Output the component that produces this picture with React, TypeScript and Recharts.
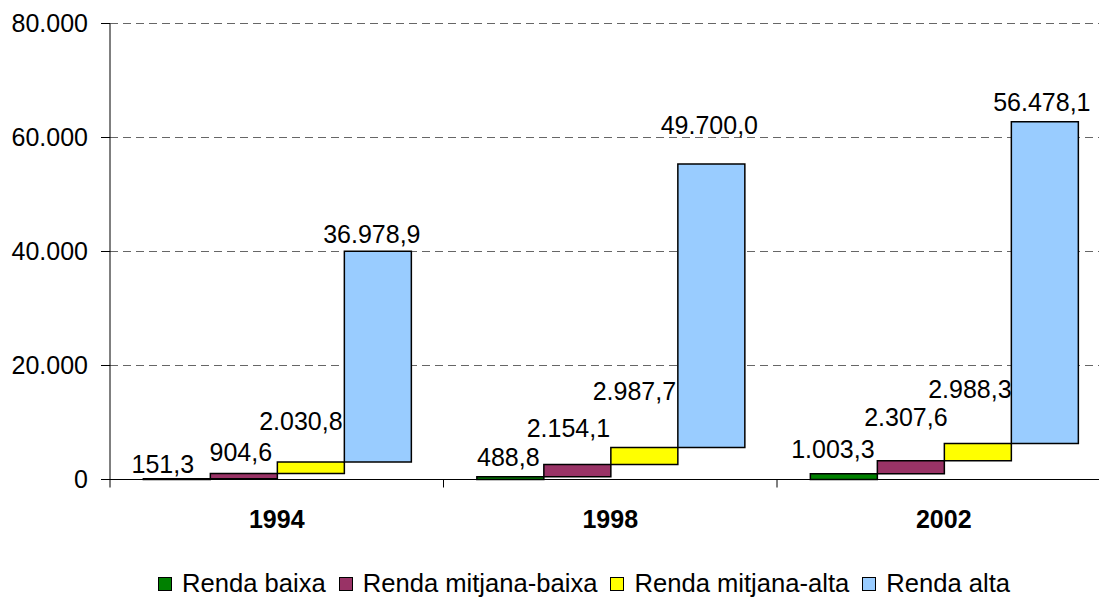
import React from 'react';
import { BarChart, Bar, XAxis, YAxis, CartesianGrid, LabelList } from 'recharts';

const years = ['1994', '1998', '2002'];
const rendaBaixa = [151.3, 488.8, 1003.3];
const rendaMitjanaBaixa = [904.6, 2154.1, 2307.6];
const rendaMitjanaAlta = [2030.8, 2987.7, 2988.3];
const rendaAlta = [36978.9, 49700.0, 56478.1];
const yTicks = [0, 20000, 40000, 60000, 80000];

const series = [
  { key: 'baixa', name: 'Renda baixa', values: rendaBaixa, color: '#008000' },
  { key: 'mitjanaBaixa', name: 'Renda mitjana-baixa', values: rendaMitjanaBaixa, color: '#993366' },
  { key: 'mitjanaAlta', name: 'Renda mitjana-alta', values: rendaMitjanaAlta, color: '#FFFF00' },
  { key: 'alta', name: 'Renda alta', values: rendaAlta, color: '#99CCFF' },
];

// label nudges (dx, dy from bar top) per series, per year - the original has hand-placed labels
const labelNudge: Record<string, [number, number][]> = {
  baixa: [[-14, -6], [-2, -11], [-11, -16]],
  mitjanaBaixa: [[-3, -12], [-9, -27], [-5, -35]],
  mitjanaAlta: [[-10, -32], [-10, -47], [-8, -46]],
  alta: [[-6, -8], [-2, -30], [-3, -11]],
};

// floating steps: every series starts where the previous one ended
const data = years.map((year, i) => {
  const row: Record<string, any> = { year };
  let cum = 0;
  series.forEach((s) => {
    const v = s.values[i];
    row[s.key] = [cum, cum + v];
    row[s.key + 'Val'] = v;
    cum += v;
  });
  return row;
});

const FONT = '"Liberation Sans", Arial, sans-serif';
const CHART_W = 1130;
const CHART_H = 598;
const Y_AXIS_W = 110;
const MARGIN = { top: 23.5, right: 19.5, bottom: 58.5, left: 0 };
const PLOT_W = CHART_W - MARGIN.left - MARGIN.right - Y_AXIS_W;
const HALF_BAND = PLOT_W / years.length / 2;

function fmtThousands(n: number) {
  return String(Math.round(n)).replace(/\B(?=(\d{3})+(?!\d))/g, '.');
}

function fmtValue(v: number) {
  const [int, dec] = v.toFixed(1).split('.');
  return fmtThousands(Number(int)) + ',' + dec;
}

function YearTick(props: any) {
  const { x, y, payload, index } = props;
  return (
    <g>
      <line x1={x - HALF_BAND} x2={x - HALF_BAND} y1={y} y2={y + 8} stroke="#000" />
      {index === years.length - 1 && (
        <line x1={x + HALF_BAND} x2={x + HALF_BAND} y1={y} y2={y + 8} stroke="#000" />
      )}
      <text x={x} y={y + 48} textAnchor="middle" fontWeight="bold" fontSize={25} fill="#000" fontFamily={FONT}>
        {payload.value}
      </text>
    </g>
  );
}

function makeLabel(seriesKey: string) {
  return (props: any) => {
    const { x, y, width, value, index } = props;
    const [dx, dy] = labelNudge[seriesKey][index] || [0, -8];
    return (
      <text x={x + width / 2 + dx} y={y + dy} textAnchor="middle" fontSize={25} fill="#000" fontFamily={FONT}>
        {fmtValue(value)}
      </text>
    );
  };
}

export default function App() {
  return (
    <div style={{ position: 'absolute', left: 0, top: 0, width: 1099, height: 598, overflow: 'hidden', background: '#fff', fontFamily: FONT }}>
      <BarChart
        width={CHART_W}
        height={CHART_H}
        data={data}
        margin={MARGIN}
        barCategoryGap="10%"
        barGap={0}
      >
        <CartesianGrid vertical={false} stroke="#666" strokeDasharray="8 5" />
        <XAxis
          dataKey="year"
          height={60}
          interval={0}
          tickSize={0}
          tickMargin={0}
          axisLine={{ stroke: '#000' }}
          tick={<YearTick />}
        />
        <YAxis
          width={Y_AXIS_W}
          domain={[0, 80000]}
          ticks={yTicks}
          interval={0}
          tickSize={9}
          tickMargin={13}
          axisLine={{ stroke: '#000' }}
          tickLine={{ stroke: '#000' }}
          tick={{ fill: '#000', fontSize: 25, fontFamily: FONT }}
          tickFormatter={(v: number) => fmtThousands(v)}
        />
        {series.map((s) => (
          <Bar
            key={s.key}
            dataKey={s.key}
            name={s.name}
            fill={s.color}
            stroke="#000"
            strokeWidth={1.5}
            isAnimationActive={false}
          >
            <LabelList dataKey={s.key + 'Val'} content={makeLabel(s.key)} />
          </Bar>
        ))}
      </BarChart>
      <div
        style={{
          position: 'absolute',
          left: 158,
          top: 570,
          display: 'flex',
          alignItems: 'center',
          fontSize: 25.6,
          lineHeight: '27px',
          color: '#000',
          whiteSpace: 'nowrap',
        }}
      >
        {series.map((s, i) => (
          <div key={s.key} style={{ display: 'flex', alignItems: 'center', marginLeft: i === 0 ? 0 : 13 }}>
            <span
              style={{
                display: 'inline-block',
                width: 12,
                height: 12,
                background: s.color,
                border: '1.5px solid #000',
                marginRight: 10,
              }}
            />
            <span>{s.name}</span>
          </div>
        ))}
      </div>
    </div>
  );
}
